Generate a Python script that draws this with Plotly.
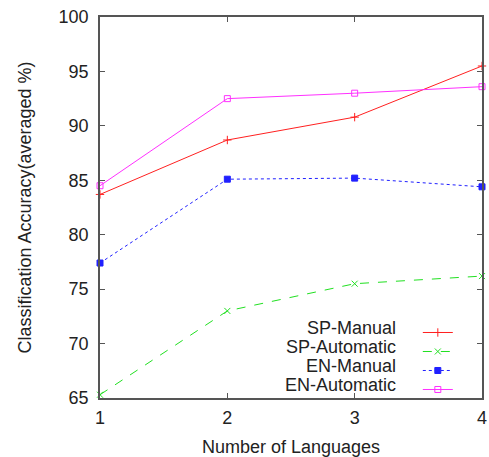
import plotly.graph_objects as go

languages = [1, 2, 3, 4]
sp_manual = [83.7, 88.7, 90.8, 95.5]
sp_automatic = [65.3, 73.0, 75.5, 76.2]
en_manual = [77.4, 85.1, 85.2, 84.4]
en_automatic = [84.5, 92.5, 93.0, 93.6]

series = [
    ("SP-Manual", sp_manual, "#ff2020", "solid", "cross-thin-open"),
    ("SP-Automatic", sp_automatic, "#20e020", "dash", "x-thin-open"),
    ("EN-Manual", en_manual, "#2020ff", "dot", "square"),
    ("EN-Automatic", en_automatic, "#ff30ff", "solid", "square-open"),
]

FONT = "Liberation Sans, Arial, sans-serif"

fig = go.Figure()
for name, vals, col, dash, sym in series:
    fig.add_trace(go.Scatter(
        x=languages, y=vals, name=name, mode="lines+markers",
        line=dict(color=col, width=1, dash=dash),
        marker=dict(symbol=sym, size=6, color=col, line=dict(color=col, width=1)),
        cliponaxis=False,
    ))

axis_common = dict(
    showgrid=False, zeroline=False, showline=True, linecolor="#555", linewidth=1.5,
    mirror="ticks", ticks="inside", ticklen=5, tickcolor="#555",
    tickfont=dict(family=FONT, size=18, color="#222"),
    ticklabeloverflow="allow", automargin=False,
)

# legend: native sample lines, names written as right-aligned annotations to the left
legend_top_y = 0.21
row_step = 19.2 / 381
for i, (name, *_rest) in enumerate(series):
    fig.add_annotation(
        text=name, xref="paper", yref="paper",
        x=0.7775, y=legend_top_y - 0.026 - i * row_step,
        xanchor="right", yanchor="middle", showarrow=False, borderpad=0,
        font=dict(family=FONT, size=18, color="#222"),
    )

fig.update_layout(
    width=489, height=457,
    margin=dict(l=100, r=7, t=17, b=59),
    paper_bgcolor="white", plot_bgcolor="white",
    font=dict(family=FONT, color="#222"),
    xaxis=dict(range=[1, 4], tickvals=[1, 2, 3, 4],
               ticklabelstandoff=3,
               title=dict(text="Number of Languages", font=dict(size=18), standoff=14),
               **axis_common),
    yaxis=dict(range=[65, 100], tickvals=[65, 70, 75, 80, 85, 90, 95, 100],
               ticklabelstandoff=6,
               title=dict(text="Classification Accuracy(averaged %)", font=dict(size=18), standoff=22),
               **axis_common),
    legend=dict(x=0.832, y=legend_top_y, xanchor="left", yanchor="top",
                bgcolor="rgba(0,0,0,0)", font=dict(size=1, color="rgba(0,0,0,0)"),
                tracegroupgap=0, itemwidth=30),
    showlegend=True,
)

fig.write_html("out.html", config={"displayModeBar": False},
               post_script="document.body.style.margin='0';")
